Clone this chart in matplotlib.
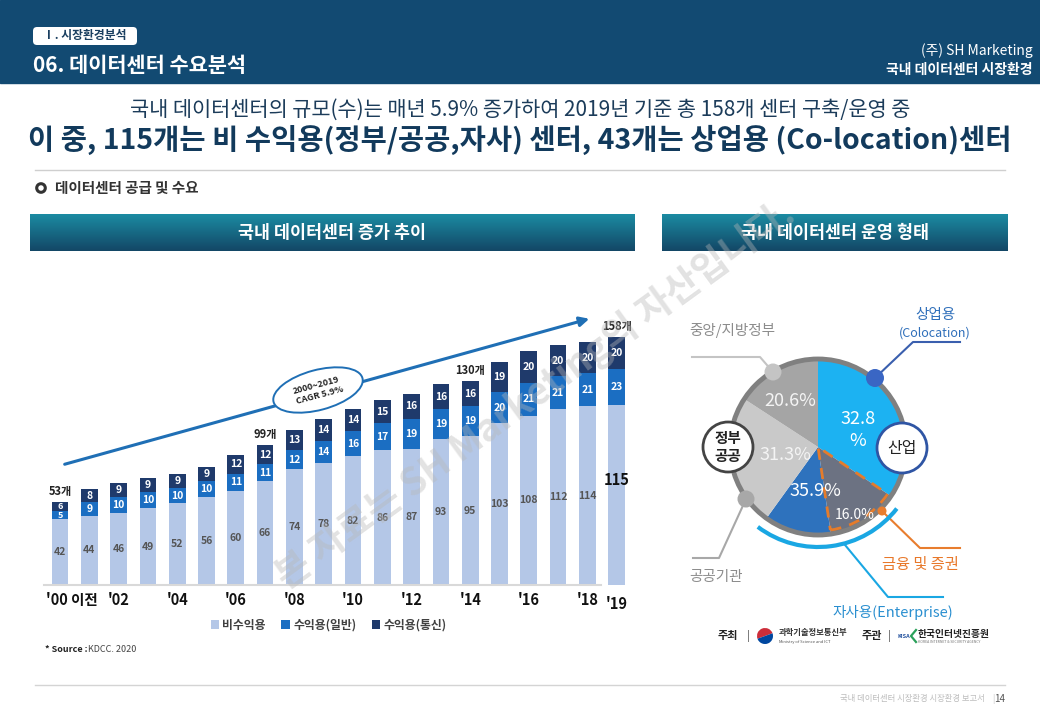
import matplotlib
matplotlib.use('Agg')
import matplotlib.pyplot as plt
from matplotlib.patches import Rectangle, FancyBboxPatch, Circle, Ellipse, Wedge, Arc
from matplotlib.colors import LinearSegmentedColormap
import matplotlib.transforms as mtrans
import numpy as np

plt.rcParams['font.family'] = ['Noto Sans CJK KR', 'DejaVu Sans']

# ---------------- data ----------------
years = ["'00 이전", "'01", "'02", "'03", "'04", "'05", "'06", "'07", "'08", "'09",
         "'10", "'11", "'12", "'13", "'14", "'15", "'16", "'17", "'18", "'19"]
tick_idx = [0, 2, 4, 6, 8, 10, 12, 14, 16, 18, 19]
nonprofit = [42, 44, 46, 49, 52, 56, 60, 66, 74, 78, 82, 86, 87, 93, 95, 103, 108, 112, 114, 115]
profit_general = [5, 9, 10, 10, 10, 10, 11, 11, 12, 14, 16, 17, 19, 19, 19, 20, 21, 21, 21, 23]
profit_telecom = [6, 8, 9, 9, 9, 9, 12, 12, 13, 14, 14, 15, 16, 16, 16, 19, 20, 20, 20, 20]
series_names = ['비수익용', '수익용(일반)', '수익용(통신)']
total_idx = [0, 7, 14, 19]
total_labels = ['53개', '99개', '130개', '158개']

pie_names = ['상업용(Colocation)', '금융 및 증권', '자사용(기타)', '공공기관', '중앙/지방정부']
pie_shares = [34.4, 13.2, 12.3, 24.2, 15.8]          # visual slice sizes
pie_labels = ['32.8\n%', '16.0%', '35.9%', '31.3%', '20.6%']

# ---------------- figure ----------------
W, H = 1040, 720
fig = plt.figure(figsize=(W / 100, H / 100), dpi=100)
fig.patch.set_facecolor('white')
ov = fig.add_axes([0, 0, 1, 1])
ov.set_axis_off()


def Y(py):
    return H - py


# header band
ov.add_patch(Rectangle((0, Y(83)), W, 83, color='#124a72', zorder=1))
ov.add_patch(FancyBboxPatch((33, Y(45)), 104, 18, boxstyle='round,pad=0,rounding_size=4',
                            fc='white', ec='none', zorder=2))
ov.text(85, Y(35.5), 'Ⅰ. 시장환경분석', ha='center', va='center', size=8.5,
        weight='bold', color='#1a3f60', zorder=3)
ov.text(33, Y(65), '06. 데이터센터 수요분석', ha='left', va='center', size=15,
        weight='bold', color='white', zorder=3)
ov.text(1033, Y(51), '(주) SH Marketing', ha='right', va='center', size=10,
        color='white', zorder=3)
ov.text(1033, Y(70), '국내 데이터센터 시장환경', ha='right', va='center', size=10,
        weight='bold', color='white', zorder=3)

# headline
ov.text(520, Y(110), '국내 데이터센터의 규모(수)는 매년 5.9% 증가하여 2019년 기준 총 158개 센터 구축/운영 중',
        ha='center', va='center', size=15, color='#1c3c5a')
ov.text(520, Y(140), '이 중, 115개는 비 수익용(정부/공공,자사) 센터, 43개는 상업용 (Co-location)센터',
        ha='center', va='center', size=20.5, weight='bold', color='#123a5c')
ov.plot([35, 1005], [Y(170), Y(170)], color='#cfcfcf', lw=1)

ov.add_patch(Circle((41, Y(188)), 4.3, fc='none', ec='#333333', lw=2.2))
ov.text(55, Y(188), '데이터센터 공급 및 수요', ha='left', va='center', size=10.5,
        weight='bold', color='#333333')

# gradient title bars
cmap_bar = LinearSegmentedColormap.from_list('bar', ['#1b8ba2', '#134766'])
grad = np.linspace(0, 1, 64).reshape(-1, 1)
for x0, x1, txt in [(30, 635, '국내 데이터센터 증가 추이'), (662, 1008, '국내 데이터센터 운영 형태')]:
    ov.imshow(grad, extent=(x0, x1, Y(251), Y(214)), cmap=cmap_bar, aspect='auto', zorder=1)
    ov.text((x0 + x1) / 2, Y(232.5), txt, ha='center', va='center', size=12.5,
            weight='bold', color='white', zorder=2)

# trend arrow + CAGR ellipse
ov.annotate('', xy=(592, Y(318)), xytext=(62, Y(465)),
            arrowprops=dict(arrowstyle='-|>', color='#1f6fb5', lw=2.2, mutation_scale=14))
ov.add_patch(Ellipse((318, Y(390)), 92, 40, angle=15, fc='white', ec='#1f6fb5', lw=1.4, zorder=3))
ov.text(318, Y(390), '2000~2019\nCAGR 5.9%', ha='center', va='center', rotation=15,
        size=6.5, weight='bold', color='#222222', linespacing=1.2, zorder=4)

# ---------------- pie ----------------
pie_colors = ['#1cb2f2', '#6c7282', '#2e72bd', '#c9c9c9', '#a5a5a5']
pc = (818, Y(447))
R = 88
wedges, _ = ov.pie(pie_shares, colors=pie_colors, startangle=90, counterclock=False,
                   center=pc, radius=R, wedgeprops=dict(linewidth=0))
ov.add_patch(Circle(pc, R, fc='none', ec='#808080', lw=3.5, zorder=3))
fw = wedges[1]
ov.add_patch(Wedge(pc, R - 4, fw.theta1, fw.theta2, fc='none', ec='#e57c2b', lw=2,
                   ls=(0, (4, 3)), zorder=4))
label_pos = [(858, 430), (855, 515), (815, 491), (785, 455), (790, 401)]
label_size = [13, 10, 13, 13, 13]
label_col = ['white', 'white', 'white', '#f4f4f4', '#f4f4f4']
for (px, py), t, s, c in zip(label_pos, pie_labels, label_size, label_col):
    ov.text(px, Y(py), t, ha='center', va='center', size=s, color=c, zorder=5,
            linespacing=1.3)

# group circles
ov.add_patch(Circle((728, Y(447)), 25, fc='white', ec='#444444', lw=2, zorder=6))
ov.text(728, Y(447), '정부\n공공', ha='center', va='center', size=10.5, weight='bold',
        color='#222222', linespacing=1.15, zorder=7)
ov.add_patch(Circle((902, Y(448)), 25, fc='white', ec='#2f55a4', lw=2, zorder=6))
ov.text(902, Y(448), '산업', ha='center', va='center', size=11.5, color='#222222', zorder=7)

# leader lines and dots
ov.plot([773, 760, 692], [Y(372), Y(357), Y(357)], color='#c4c4c4', lw=1.5, zorder=5)
ov.add_patch(Circle((773, Y(372)), 8.5, fc='#c4c4c4', ec='none', zorder=6))
ov.text(732, Y(330), '중앙/지방정부', ha='center', va='center', size=10.5, color='#8c8c8c')

ov.plot([746, 719, 693], [Y(499), Y(558), Y(558)], color='#a8a8a8', lw=1.5, zorder=5)
ov.add_patch(Circle((746, Y(499)), 8.5, fc='#a8a8a8', ec='none', zorder=6))
ov.text(716, Y(577), '공공기관', ha='center', va='center', size=10.5, color='#8c8c8c')

ov.plot([875, 913, 960], [Y(378), Y(342), Y(342)], color='#3a5fae', lw=1.5, zorder=5)
ov.add_patch(Circle((875, Y(378)), 9, fc='#3a66c4', ec='none', zorder=6))
ov.text(935, Y(315), '상업용', ha='center', va='center', size=10.5, color='#2f6fba')
ov.text(935, Y(333), '(Colocation)', ha='center', va='center', size=9, color='#2f6fba')

ov.plot([882, 920, 960], [Y(511), Y(548), Y(548)], color='#e87d2e', lw=1.5, zorder=5)
ov.add_patch(Circle((882, Y(511)), 4.5, fc='#e87d2e', ec='none', zorder=6))
ov.text(920, Y(565), '금융 및 증권', ha='center', va='center', size=11, color='#e8782a')

ov.add_patch(Arc(pc, 200, 200, theta1=-127, theta2=-38, color='#1aa7e3', lw=3, zorder=5))
ax_ang = np.deg2rad(-75)
ov.plot([pc[0] + 100 * np.cos(ax_ang), 888, 943],
        [pc[1] + 100 * np.sin(ax_ang), Y(597), Y(597)], color='#1aa7e3', lw=1.5, zorder=5)
ov.text(893, Y(612), '자사용(Enterprise)', ha='center', va='center', size=10.5, color='#2a8fd0')

# logos row
ov.text(728, Y(636), '주최', ha='center', va='center', size=8, weight='bold', color='#222')
ov.text(748, Y(636), '|', ha='center', va='center', size=8, color='#555')
ov.add_patch(Wedge((765, Y(636)), 8, 20, 200, fc='#cd2e3a', ec='none'))
ov.add_patch(Wedge((765, Y(636)), 8, 200, 380, fc='#0047a0', ec='none'))
ov.text(779, Y(632), '과학기술정보통신부', ha='left', va='center', size=6, weight='bold', color='#333')
ov.text(779, Y(642), 'Ministry of Science and ICT', ha='left', va='center', size=3, color='#555')
ov.text(872, Y(636), '주관', ha='center', va='center', size=8, weight='bold', color='#222')
ov.text(889, Y(636), '|', ha='center', va='center', size=8, color='#555')
ov.text(898, Y(637), 'KISA', ha='left', va='center', size=4, weight='bold', color='#1f4e9c')
ov.plot([916, 911, 916], [Y(630), Y(636), Y(642)], color='#2aa05a', lw=1.6)
ov.text(918, Y(634), '한국인터넷진흥원', ha='left', va='center', size=7, weight='bold', color='#222')
ov.text(918, Y(642), 'KOREA INTERNET & SECURITY AGENCY', ha='left', va='center', size=2.5, color='#777')

# source & footer
ov.text(45, Y(650), '* Source :', ha='left', va='center', size=6.5, weight='bold', color='#222')
ov.text(88, Y(650), 'KDCC. 2020', ha='left', va='center', size=6.5, color='#444')
ov.plot([35, 1005], [Y(685), Y(685)], color='#d4d4d4', lw=1)
ov.text(985, Y(699), '국내 데이터센터 시장환경 시장환경 보고서', ha='right', va='center',
        size=6, color='#bdbdbd')
ov.text(993, Y(699), '|', ha='center', va='center', size=6, color='#bdbdbd')
ov.text(1005, Y(699), '14', ha='right', va='center', size=7, color='#555')

ov.set_xlim(0, W)
ov.set_ylim(0, H)
ov.set_aspect('auto')

# ---------------- bar chart ----------------
sp = 29.3
left_px = 60 - 0.6 * sp
right_px = 60 + 19.6 * sp
ax = fig.add_axes([left_px / W, (H - 585) / H, (right_px - left_px) / W, (585 - 287) / H])
ax.set_facecolor('none')
x = np.arange(len(years))
npf = np.array(nonprofit)
pg = np.array(profit_general)
pt = np.array(profit_telecom)
bw = 0.57
b1 = ax.bar(x, npf, bw, color='#b4c7e7', label=series_names[0])
b2 = ax.bar(x, pg, bw, bottom=npf, color='#1b6ec2', label=series_names[1])
b3 = ax.bar(x, pt, bw, bottom=npf + pg, color='#1f3a6b', label=series_names[2])
ax.set_xlim(-0.6, 19.6)
ax.set_ylim(0, 190)

for i in x:
    if i == len(x) - 1:
        ax.text(i, npf[i] * 0.58, str(npf[i]), ha='center', va='center', size=10.5,
                weight='bold', color='#111')
    else:
        ax.text(i, npf[i] * 0.5, str(npf[i]), ha='center', va='center', size=7.5,
                weight='bold', color='#555')
    small = 6.5 if pg[i] < 7 else 7.5
    ax.text(i, npf[i] + pg[i] / 2, str(pg[i]), ha='center', va='center', size=small,
            weight='bold', color='white')
    ax.text(i, npf[i] + pg[i] + pt[i] / 2, str(pt[i]), ha='center', va='center', size=small,
            weight='bold', color='white')

tot = npf + pg + pt
for i, lbl in zip(total_idx, total_labels):
    ax.annotate(lbl, (i, tot[i]), xytext=(0, 3), textcoords='offset points', ha='center',
                va='bottom', size=8, weight='bold', color='#222')

ax.plot([-0.55, 18.45], [0, 0], color='#d9d9d9', lw=1.5, clip_on=False)
for s in ax.spines.values():
    s.set_visible(False)
ax.set_yticks([])
ax.set_xticks(tick_idx)
ax.set_xticklabels([years[i] for i in tick_idx], fontsize=10.5, fontweight='bold', color='#111')
ax.tick_params(axis='x', length=0, pad=5)
tl = ax.get_xticklabels()
tl[0].set_transform(tl[0].get_transform() + mtrans.ScaledTranslation(0.12, 0, fig.dpi_scale_trans))
tl[-1].set_transform(tl[-1].get_transform() + mtrans.ScaledTranslation(0.0, -0.04, fig.dpi_scale_trans))

fig.legend([b1, b2, b3], series_names, loc='center left', bbox_to_anchor=(200 / W, 1 - 625 / H),
           ncol=3, frameon=False, prop=dict(size=8.5, weight='bold'), labelcolor='#404040',
           handlelength=0.7, handleheight=0.7, handletextpad=0.3, columnspacing=1.3)

# watermark
fig.text(535 / W, 1 - 395 / H, '본 자료는 SH Marketing의 자산입니다.', rotation=36,
         ha='center', va='center', size=27, weight='bold', color='#b8b8b8', alpha=0.4, zorder=10)

fig.savefig('out.png', dpi=100)
